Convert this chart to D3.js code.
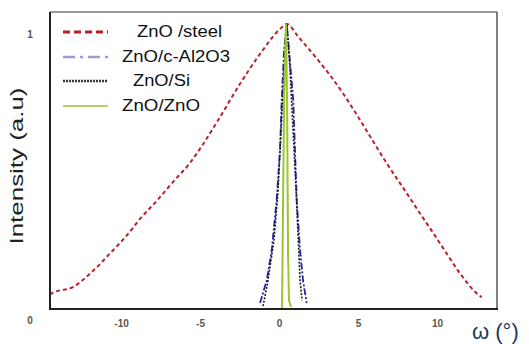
<!DOCTYPE html>
<html><head><meta charset="utf-8">
<script src="https://cdn.jsdelivr.net/npm/d3@7"></script>
<style>body{margin:0;background:#fff}svg{display:block}</style>
</head><body>
<svg id="c" width="529" height="344"></svg>
<script>
const seriesNames = ["ZnO /steel", "ZnO/c-Al2O3", "ZnO/Si", "ZnO/ZnO"];
const xTicks = [-10, -5, 0, 5, 10];
const yTicks = [0, 1];
const steelOmega = [-14.5,-14.39,-13.02,-11.75,-10.70,-9.64,-8.80,-7.74,-6.69,-5.63,-4.79,-3.94,-2.47,-1.20,0.06,0.49,1.22,2.59,3.23,4.07,5.13,5.97,6.82,8.09,8.92,9.77,10.61,11.46,12.51,12.83];
const steelInt   = [0.05,0.055,0.078,0.135,0.195,0.258,0.316,0.38,0.447,0.513,0.58,0.655,0.79,0.895,0.982,1.0,0.955,0.865,0.82,0.755,0.663,0.587,0.511,0.406,0.336,0.266,0.195,0.125,0.055,0.041];
const alOmega = [-1.20,-0.78,-0.46,-0.15,0.06,0.17,0.32,0.49,0.63,0.90,1.01,1.12,1.33,1.52,1.75];
const alInt   = [0.021,0.10,0.207,0.382,0.558,0.733,0.909,1.0,0.909,0.733,0.558,0.382,0.207,0.10,0.021];
const siOmega = [-1.01,-0.70,-0.32,-0.06,0.13,0.32,0.49,0.70,0.89,1.08,1.22,1.33,1.46];
const siInt   = [0.01,0.10,0.242,0.418,0.628,0.839,1.0,0.839,0.628,0.418,0.242,0.10,0.03];
const znOmega = [0.19,0.22,0.32,0.44,0.51,0.57,0.63,0.76];
const znInt   = [0.0,0.17,0.73,1.0,0.73,0.2,0.03,0.007];

const svg = d3.select("#c");
const L=50,T=12,R=497,B=309;
const x = d3.scaleLinear().domain([-14.5,13.8]).range([L,R]);
const y = d3.scaleLinear().domain([0,1.042]).range([B,T]);
const zip=(a,b)=>a.map((v,i)=>[v,b[i]]);
const line = d3.line().x(d=>x(d[0])).y(d=>y(d[1]));

const styles = [
  {data:zip(steelOmega,steelInt), color:"#b8202a", w:2, dash:"4,3", legDash:"7,4", legW:3, curve:d3.curveMonotoneX},
  {data:zip(alOmega,alInt), color:"#2424a8", w:1.8, dash:"7,2,2,2", legDash:"12,5,3,5", legW:2.5, legColor:"#9b9bd6", curve:d3.curveLinear},
  {data:zip(siOmega,siInt), color:"#1a1a1a", w:1.6, dash:"2,1.5", legDash:"2,1", legW:2.5, legColor:"#333", curve:d3.curveLinear},
  {data:zip(znOmega,znInt), color:"#9cc42e", w:2, dash:null, legDash:null, legW:2, legColor:"#b8cf6c", curve:d3.curveLinear}
];

const g = svg.append("g");
styles.forEach(s=>{
  g.append("path").attr("d", line.curve(s.curve)(s.data))
   .attr("fill","none").attr("stroke",s.color).attr("stroke-width",s.w)
   .attr("stroke-dasharray",s.dash);
});

// frame
svg.append("line").attr("x1",L).attr("x2",R).attr("y1",T).attr("y2",T).attr("stroke","#777").attr("stroke-width",1.5);
svg.append("line").attr("x1",R).attr("x2",R).attr("y1",T).attr("y2",B).attr("stroke","#555").attr("stroke-width",1.5);
svg.append("line").attr("x1",L).attr("x2",L).attr("y1",T).attr("y2",B+1).attr("stroke","#222").attr("stroke-width",2);
svg.append("line").attr("x1",L-1).attr("x2",R+1).attr("y1",B).attr("y2",B).attr("stroke","#222").attr("stroke-width",2);

// x axis
const xa = svg.append("g").attr("transform",`translate(0,${B})`)
  .call(d3.axisBottom(x).tickValues(xTicks).tickSize(0).tickFormat(d=>d));
xa.select(".domain").remove();
xa.selectAll("text").attr("dy","15px").attr("font-family","Liberation Sans, Arial, sans-serif")
  .attr("font-size","10px").attr("font-weight","bold").attr("fill","#555");
// y axis labels
const ya = svg.append("g").attr("transform",`translate(30,0)`)
  .call(d3.axisLeft(y).tickValues(yTicks).tickSize(0).tickFormat(d=>d));
ya.select(".domain").remove();
ya.selectAll("text").attr("x",0).attr("text-anchor","middle").attr("dy","14px")
  .attr("font-family","Liberation Sans, Arial, sans-serif")
  .attr("font-size","10px").attr("font-weight","bold").attr("fill","#555");

// axis titles
svg.append("text").attr("transform","translate(23,166) rotate(-90)")
  .attr("text-anchor","middle").attr("font-family","Liberation Sans, Arial, sans-serif")
  .attr("font-size","18px").attr("fill","#222")
  .attr("textLength",157).attr("lengthAdjust","spacingAndGlyphs")
  .text("Intensity (a.u)");
svg.append("text").attr("x",472).attr("y",339)
  .attr("font-family","Liberation Sans, Arial, sans-serif")
  .attr("font-size","22px").attr("fill","#1f3864")
  .text("ω (°)");

// legend
const legY=[32,57,81,106];
const legTx=[137,122,133,122];
const legLen=[85,108,57,78];
styles.forEach((s,i)=>{
  svg.append("line").attr("x1",63).attr("x2",108).attr("y1",legY[i]).attr("y2",legY[i])
    .attr("stroke",s.legColor||s.color).attr("stroke-width",s.legW).attr("stroke-dasharray",s.legDash);
  svg.append("text").attr("x",legTx[i]).attr("y",legY[i]+5)
    .attr("font-family","Liberation Sans, Arial, sans-serif").attr("font-size","16px").attr("fill","#111")
    .attr("textLength",legLen[i]).attr("lengthAdjust","spacingAndGlyphs")
    .text(seriesNames[i]);
});
</script>
</body></html>
